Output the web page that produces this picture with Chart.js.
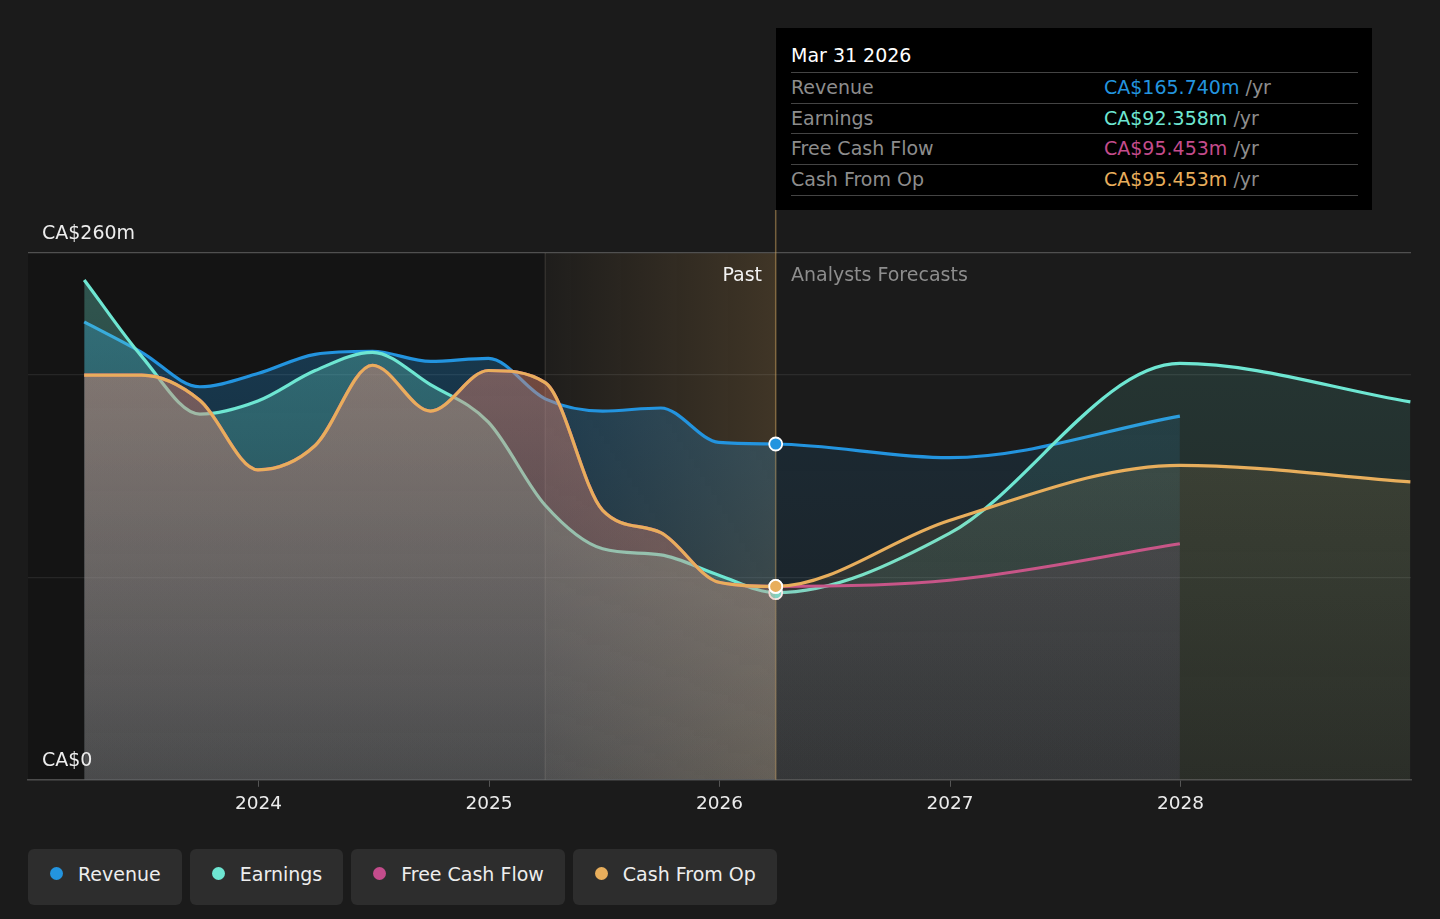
<!DOCTYPE html>
<html>
<head>
<meta charset="utf-8">
<title>Revenue, Earnings and Cash Flow</title>
<script src="https://cdn.jsdelivr.net/npm/chart.js@4.4.1/dist/chart.umd.min.js"></script>
<style>
  html, body { margin: 0; padding: 0; }
  body {
    width: 1440px; height: 919px; overflow: hidden; position: relative;
    background: #1b1b1b; font-family: 'DejaVu Sans', sans-serif; color: #fff;
  }
  #wrap { position: absolute; left: 0; top: 0; width: 1440px; height: 840px; }
  .zone { position: absolute; top: 263px; font-size: 19px; line-height: 22px; white-space: nowrap; }
  #pastLbl { right: 678px; color: #f2f2f2; }
  #fcLbl { left: 791px; color: #8d8d8d; }
  #tip {
    position: absolute; left: 776px; top: 28px; width: 596px; height: 182px; box-sizing: border-box;
    background: #000; padding: 0 14px 0 15px; font-size: 19px;
  }
  #tip .title { padding-top: 16px; height: 28px; line-height: 22px; border-bottom: 1px solid #444; color: #fff; }
  #tip .row { display: flex; height: 29.7px; line-height: 29.7px; border-bottom: 1px solid #444; color: #8d8d8d; }
  #tip .row .lab { width: 313px; }
  #legend { position: absolute; left: 28px; top: 849px; display: flex; gap: 8px; }
  .item {
    display: flex; align-items: center; height: 56px; box-sizing: border-box;
    padding: 0 21px 6px 22px; background: #2d2d2d; border-radius: 6px;
    font-size: 19px; line-height: 50px; color: #eee;
  }
  .dot { width: 13px; height: 13px; border-radius: 50%; margin-right: 15px; position: relative; top: -1px; }
</style>
</head>
<body>
<div id="wrap"><canvas id="chart"></canvas></div>
<div class="zone" id="pastLbl">Past</div>
<div class="zone" id="fcLbl">Analysts Forecasts</div>
<div id="tip"></div>
<div id="legend"></div>

<script>
// Reported periods (quarter ends), last one is the "now" point
const periods = ['2023-03-31', '2023-06-30', '2023-09-30', '2023-12-31', '2024-03-31', '2024-06-30',
  '2024-09-30', '2024-12-31', '2025-03-31', '2025-06-30', '2025-09-30', '2025-12-31', '2026-03-31'];
// Analyst forecast periods
const forecastPeriods = ['2026-12-31', '2027-12-31', '2028-12-31'];

// Values in CA$ millions
const revenuePast = [226, 211, 194, 200.5, 210, 211.5, 206.5, 208, 188, 182, 183.5, 166.5, 165.74];
const revenueForecast = [159, 179.5];
const earningsPast = [246.7, 209, 180.5, 187, 202, 211, 195, 176.5, 135.5, 114, 111, 101, 92.358];
const earningsForecast = [121.6, 205.5, 186.5];
const fcfPast = [199.7, 199.7, 187.3, 153, 165, 204.6, 182, 202, 196, 133, 122, 97.5, 95.453];
const fcfForecast = [98.5, 116.5];
const cfoPast = [199.7, 199.7, 187.3, 153, 165, 204.6, 182, 202, 196, 133, 122, 97.5, 95.453];
const cfoForecast = [128, 155.2, 147];

const xTicks = [2024, 2025, 2026, 2027, 2028];
const yTicks = [0, 100, 200, 260];
const yLabelValues = [0, 260];
const yLabelText = ['CA$0', 'CA$260m'];

const highlightStart = '2025-03-31';
const splitDate = periods[periods.length - 1];

// fractional year from an ISO date
function toYear(s) {
  const [y, m, d] = s.split('-').map(Number);
  const start = Date.UTC(y, 0, 1), end = Date.UTC(y + 1, 0, 1);
  return y + (Date.UTC(y, m - 1, d) - start) / (end - start);
}

const splitX = toYear(splitDate);
const highlightX = toYear(highlightStart);

function points(past, forecast) {
  const dates = periods.concat(forecastPeriods.slice(0, forecast.length));
  return past.concat(forecast).map((v, i) => ({ x: toYear(dates[i]), y: v }));
}

const series = [
  { label: 'Revenue', color: '#2394df', rgb: '35,148,223', past: revenuePast, forecast: revenueForecast, order: 4 },
  { label: 'Earnings', color: '#6ee6d2', rgb: '110,230,210', past: earningsPast, forecast: earningsForecast, order: 3 },
  { label: 'Free Cash Flow', color: '#c44c8c', rgb: '196,76,140', past: fcfPast, forecast: fcfForecast, order: 2 },
  { label: 'Cash From Op', color: '#e8ae5c', rgb: '232,174,92', past: cfoPast, forecast: cfoForecast, order: 1 }
];

// vertical fill gradients, cached so segments with the same style merge
const gradCache = {};
function fillFor(chart, rgb, isPast) {
  const a = chart.chartArea;
  if (!a) return 'rgba(' + rgb + ',0.2)';
  const key = rgb + isPast + a.top + a.bottom;
  if (!gradCache[key]) {
    const g = chart.ctx.createLinearGradient(0, a.top, 0, a.bottom);
    g.addColorStop(0, 'rgba(' + rgb + ',' + (isPast ? 0.32 : 0.15) + ')');
    g.addColorStop(1, 'rgba(' + rgb + ',' + (isPast ? 0.12 : 0.06) + ')');
    gradCache[key] = g;
  }
  return gradCache[key];
}

const datasets = series.map(s => ({
  label: s.label,
  data: points(s.past, s.forecast),
  borderColor: s.color,
  backgroundColor: 'rgba(' + s.rgb + ',0.2)',
  borderWidth: 3.2,
  fill: 'origin',
  cubicInterpolationMode: 'monotone',
  order: s.order,
  pointRadius: c => (c.raw && Math.abs(c.raw.x - splitX) < 1e-6 ? 6.5 : 0),
  pointBackgroundColor: s.color,
  pointBorderColor: '#ffffff',
  pointBorderWidth: 1.8,
  segment: {
    backgroundColor: c => fillFor(c.chart, s.rgb, c.p0.parsed.x < splitX - 1e-6)
  }
}));

const backdrop = {
  id: 'backdrop',
  beforeDraw(chart) {
    const { ctx, chartArea: a, scales: { x } } = chart;
    const x0 = x.getPixelForValue(highlightX), x1 = x.getPixelForValue(splitX);
    ctx.save();
    ctx.fillStyle = 'rgba(0,0,0,0.26)';
    ctx.fillRect(a.left, a.top, x0 - a.left, a.bottom - a.top);
    const g = ctx.createLinearGradient(x0, 0, x1, 0);
    g.addColorStop(0, 'rgba(232,174,92,0.02)');
    g.addColorStop(1, 'rgba(232,174,92,0.18)');
    ctx.fillStyle = g;
    ctx.fillRect(x0, a.top, x1 - x0, a.bottom - a.top);
    ctx.restore();
  },
  beforeDatasetsDraw(chart) {
    const { ctx, chartArea: a, scales: { x } } = chart;
    const x0 = x.getPixelForValue(highlightX), x1 = x.getPixelForValue(splitX);
    ctx.save();
    ctx.lineWidth = 1.2;
    ctx.strokeStyle = 'rgba(255,240,220,0.13)';
    ctx.beginPath(); ctx.moveTo(x0, a.top); ctx.lineTo(x0, a.bottom); ctx.stroke();
    ctx.lineWidth = 1.5;
    ctx.strokeStyle = 'rgba(210,165,95,0.5)';
    ctx.beginPath(); ctx.moveTo(x1, 210); ctx.lineTo(x1, a.bottom); ctx.stroke();
    ctx.restore();
  },
  afterDraw(chart) {
    const { ctx, scales: { y } } = chart;
    ctx.save();
    ctx.font = '19px "DejaVu Sans"';
    ctx.fillStyle = '#ededed';
    ctx.textBaseline = 'alphabetic';
    yLabelValues.forEach((v, i) => ctx.fillText(yLabelText[i], 42, y.getPixelForValue(v) - 14));
    ctx.restore();
  }
};

new Chart(document.getElementById('chart'), {
  type: 'line',
  data: { datasets },
  plugins: [backdrop],
  options: {
    responsive: true,
    maintainAspectRatio: false,
    animation: false,
    events: [],
    layout: { padding: { left: 28, right: 29, top: 253, bottom: 19 } },
    plugins: { legend: { display: false }, tooltip: { enabled: false } },
    scales: {
      x: {
        type: 'linear',
        min: toYear('2023-01-01'),
        max: toYear('2029-01-01'),
        afterBuildTicks: axis => { axis.ticks = xTicks.map(v => ({ value: v })); },
        grid: { drawOnChartArea: false, drawTicks: true, tickLength: 7, color: '#555' },
        border: { display: true, color: '#4c4c4c', width: 1.5 },
        ticks: {
          color: '#ececec', padding: 6, maxRotation: 0, autoSkip: false,
          font: { family: "'DejaVu Sans'", size: 18.5 },
          callback: v => String(v)
        }
      },
      y: {
        min: 0,
        max: 260,
        afterBuildTicks: axis => { axis.ticks = yTicks.map(v => ({ value: v })); },
        ticks: { display: false },
        border: { display: false },
        grid: {
          drawTicks: false,
          lineWidth: 1.3,
          color: c => (c.tick && c.tick.value === 260 ? '#505050' : 'rgba(255,255,255,0.08)')
        }
      }
    }
  }
});

// tooltip box for the latest reported period
const fmtDate = s => {
  const months = ['Jan', 'Feb', 'Mar', 'Apr', 'May', 'Jun', 'Jul', 'Aug', 'Sep', 'Oct', 'Nov', 'Dec'];
  const [y, m, d] = s.split('-').map(Number);
  return months[m - 1] + ' ' + d + ' ' + y;
};
const tip = document.getElementById('tip');
let html = '<div class="title">' + fmtDate(splitDate) + '</div>';
series.forEach(s => {
  const v = s.past[s.past.length - 1];
  html += '<div class="row"><span class="lab">' + s.label + '</span><span><span style="color:' +
    s.color + '">CA$' + v.toFixed(3) + 'm</span> /yr</span></div>';
});
tip.innerHTML = html;

// legend chips
const legend = document.getElementById('legend');
series.forEach(s => {
  const el = document.createElement('div');
  el.className = 'item';
  el.innerHTML = '<span class="dot" style="background:' + s.color + '"></span><span>' + s.label + '</span>';
  legend.appendChild(el);
});
</script>
</body>
</html>
